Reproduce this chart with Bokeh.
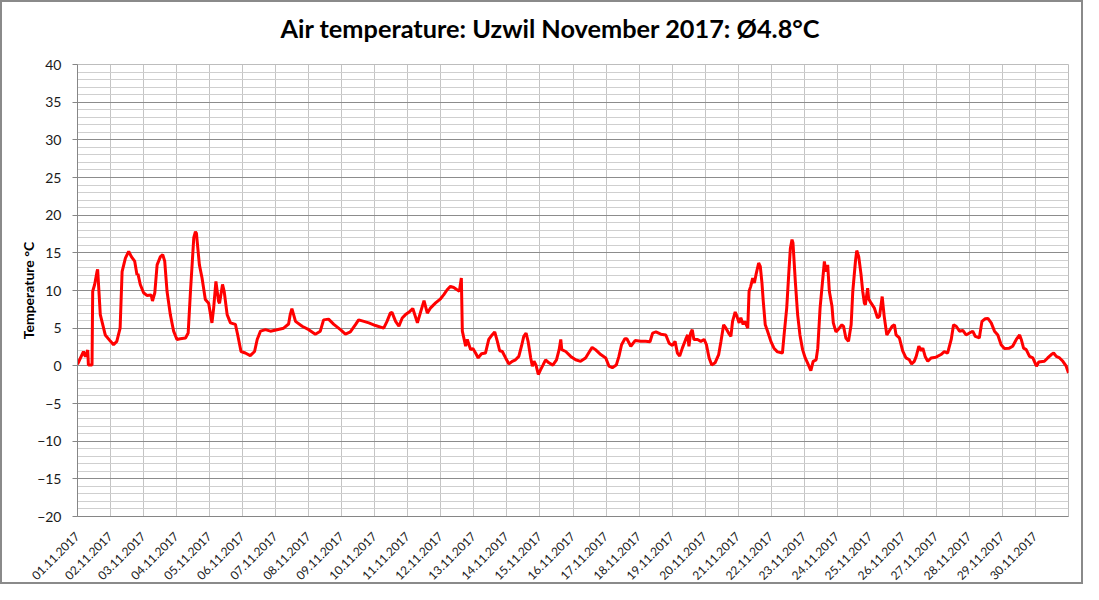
import math
from bokeh.plotting import figure
from bokeh.models import FixedTicker, Range1d, Title
from bokeh.embed import file_html
from bokeh.resources import INLINE

# time in days since 01.11.2017 00:00 and air temperature in °C
day_offset = [
    0.0, 0.18, 0.24, 0.31, 0.33, 0.44, 0.46, 0.52, 0.59, 0.61, 0.69, 0.84,
    1.0, 1.09, 1.19, 1.29, 1.35, 1.45, 1.55, 1.63, 1.73, 1.8, 1.83, 1.9,
    2.0, 2.1, 2.23, 2.27, 2.34, 2.41, 2.51, 2.58, 2.64, 2.71, 2.81, 2.91,
    3.01, 3.11, 3.27, 3.35, 3.42, 3.52, 3.57, 3.6, 3.69, 3.77, 3.87, 3.97,
    4.07, 4.12, 4.19, 4.27, 4.3, 4.39, 4.44, 4.53, 4.63, 4.78, 4.85, 4.95,
    5.08, 5.23, 5.36, 5.44, 5.54, 5.69, 5.84, 6.04, 6.24, 6.39, 6.44, 6.49,
    6.6, 6.8, 7.0, 7.2, 7.35, 7.45, 7.6, 7.76, 7.96, 8.11, 8.26, 8.42,
    8.51, 8.67, 8.82, 9.02, 9.27, 9.37, 9.47, 9.52, 9.63, 9.73, 9.83, 9.93,
    10.03, 10.15, 10.29, 10.39, 10.49, 10.59, 10.69, 10.84, 10.99, 11.09, 11.19, 11.29,
    11.39, 11.49, 11.56, 11.62, 11.65, 11.75, 11.8, 11.9, 11.97, 12.05, 12.13, 12.23,
    12.35, 12.45, 12.55, 12.63, 12.71, 12.78, 12.86, 12.96, 13.06, 13.16, 13.26, 13.36,
    13.44, 13.51, 13.58, 13.64, 13.72, 13.77, 13.82, 13.88, 13.95, 14.02, 14.09, 14.17,
    14.27, 14.39, 14.5, 14.58, 14.63, 14.66, 14.78, 14.93, 15.08, 15.23, 15.38, 15.5,
    15.58, 15.68, 15.84, 15.99, 16.09, 16.19, 16.31, 16.39, 16.47, 16.57, 16.63, 16.75,
    16.88, 17.05, 17.2, 17.33, 17.41, 17.51, 17.66, 17.81, 17.91, 18.01, 18.09, 18.16,
    18.23, 18.31, 18.41, 18.47, 18.51, 18.56, 18.61, 18.66, 18.77, 18.87, 18.97, 19.04,
    19.12, 19.2, 19.3, 19.41, 19.48, 19.56, 19.63, 19.71, 19.78, 19.83, 19.91, 19.96,
    20.03, 20.08, 20.15, 20.2, 20.29, 20.33, 20.38, 20.44, 20.49, 20.54, 20.62, 20.67,
    20.72, 20.76, 20.82, 20.89, 20.99, 21.09, 21.19, 21.34, 21.39, 21.47, 21.53, 21.58,
    21.63, 21.66, 21.73, 21.8, 21.87, 21.95, 22.03, 22.1, 22.2, 22.27, 22.36, 22.41,
    22.48, 22.54, 22.61, 22.65, 22.71, 22.76, 22.84, 22.88, 22.96, 23.06, 23.14, 23.19,
    23.26, 23.34, 23.42, 23.47, 23.55, 23.59, 23.65, 23.72, 23.77, 23.82, 23.85, 23.92,
    23.95, 24.02, 24.12, 24.22, 24.28, 24.36, 24.42, 24.5, 24.57, 24.66, 24.73, 24.78,
    24.88, 24.98, 25.08, 25.18, 25.25, 25.33, 25.39, 25.47, 25.54, 25.59, 25.66, 25.74,
    25.84, 25.99, 26.14, 26.24, 26.34, 26.45, 26.52, 26.6, 26.7, 26.8, 26.9, 27.0,
    27.1, 27.18, 27.3, 27.38, 27.48, 27.56, 27.66, 27.76, 27.86, 27.96, 28.06, 28.21,
    28.31, 28.42, 28.52, 28.57, 28.64, 28.72, 28.82, 28.92, 29.03, 29.1, 29.27, 29.37,
    29.48, 29.55, 29.63, 29.73, 29.83, 29.93, 30.0,
]
temp_c = [
    0.2, 1.9, 1.2, 2.1, 0.1, 0.1, 9.9, 10.8, 12.5, 12.8, 6.8, 4.1,
    3.25, 2.8, 3.25, 5.0, 12.5, 14.3, 15.2, 14.5, 13.9, 12.1, 12.2, 10.8,
    9.7, 9.35, 9.4, 8.6, 9.7, 13.4, 14.5, 14.75, 13.9, 9.9, 6.8, 4.6,
    3.5, 3.6, 3.7, 4.35, 9.9, 17.0, 17.8, 17.6, 13.4, 11.65, 8.8, 8.3,
    5.7, 7.6, 11.2, 8.55, 8.3, 10.8, 9.9, 6.8, 5.7, 5.5, 4.1, 1.9,
    1.7, 1.35, 1.9, 3.5, 4.6, 4.8, 4.6, 4.8, 5.0, 5.55, 6.8, 7.6,
    5.9, 5.25, 4.8, 4.2, 4.6, 6.1, 6.2, 5.5, 4.8, 4.2, 4.5, 5.5,
    6.1, 5.9, 5.7, 5.35, 5.0, 5.9, 7.0, 7.1, 5.9, 5.25, 6.35, 6.8,
    7.1, 7.6, 5.7, 7.2, 8.65, 7.0, 7.7, 8.35, 8.9, 9.45, 10.1, 10.55,
    10.4, 10.1, 9.9, 11.65, 4.6, 2.6, 3.5, 2.15, 2.3, 1.7, 1.05, 1.6,
    1.7, 3.5, 4.1, 4.5, 3.25, 2.0, 1.9, 1.05, 0.25, 0.6, 0.8, 1.25,
    2.6, 3.9, 4.35, 3.25, 1.05, -0.05, 0.6, 0.1, -1.15, -0.5, 0.1, 0.8,
    0.4, 0.1, 0.8, 2.15, 3.5, 2.15, 1.9, 1.25, 0.8, 0.6, 1.05, 1.9,
    2.45, 2.15, 1.5, 1.05, -0.05, -0.25, 0.1, 1.25, 2.8, 3.6, 3.6, 2.6,
    3.35, 3.25, 3.25, 3.2, 4.35, 4.5, 4.2, 4.1, 3.0, 2.7, 3.25, 1.7,
    1.3, 2.35, 3.5, 4.1, 2.6, 4.35, 4.8, 3.5, 3.5, 3.25, 3.5, 2.8,
    1.05, 0.1, 0.4, 1.5, 3.25, 5.45, 5.0, 4.35, 3.9, 5.9, 7.15, 6.6,
    5.7, 6.4, 5.5, 5.9, 5.0, 9.9, 10.55, 11.65, 11.0, 12.1, 13.65, 13.2,
    11.0, 8.55, 5.45, 4.6, 3.25, 2.3, 1.85, 1.7, 4.1, 7.7, 12.1, 15.6,
    16.75, 16.3, 11.2, 6.8, 4.1, 2.15, 1.05, 0.4, -0.65, 0.6, 0.8, 2.35,
    7.7, 10.55, 13.85, 12.5, 13.4, 9.9, 7.9, 5.7, 4.5, 5.0, 5.45, 5.25,
    3.7, 3.25, 5.45, 9.9, 13.85, 15.3, 14.5, 12.1, 9.9, 8.35, 8.1, 10.3,
    8.9, 8.35, 7.7, 6.35, 6.6, 9.2, 6.6, 4.1, 4.6, 5.25, 5.45, 4.1,
    3.7, 2.0, 1.05, 0.8, 0.25, 0.6, 1.25, 2.6, 2.0, 2.35, 1.25, 0.6,
    1.05, 1.15, 1.5, 1.9, 1.7, 3.5, 5.45, 5.25, 4.6, 4.7, 4.1, 4.35,
    4.6, 3.9, 3.7, 5.9, 6.25, 6.3, 5.7, 4.6, 4.1, 2.8, 2.3, 2.35,
    2.6, 3.5, 4.1, 3.5, 2.35, 2.15, 1.25, 1.05, -0.05, 0.5, 0.6, 1.05,
    1.5, 1.7, 1.25, 1.05, 0.6, -0.05, -0.95,
]

date_labels = ["%02d.11.2017" % d for d in range(1, 31)]
y_major = list(range(-20, 41, 5))
y_minor = list(range(-20, 41, 1))

FONT = "Lato"

p = figure(
    width=1083, height=584,
    x_range=Range1d(0, 30), y_range=Range1d(-20, 40),
    output_backend="svg", toolbar_location=None,
    min_border_left=75, min_border_right=17,
    min_border_top=62, min_border_bottom=69,
    background_fill_color="white", border_fill_color="white",
)
p.styles = {"border": "2px solid #8a8a8a"}

# spacer between title and plot area
p.add_layout(Title(text=" ", text_font_size="10px", standoff=2), "above")

p.title.text = "Air temperature: Uzwil November 2017: \u00d84.8\u00b0C"
p.title.text_font = FONT
p.title.text_font_size = "25.3px"
p.title.text_font_style = "bold"
p.title.text_color = "#000000"
p.title.align = "left"
p.title.offset = 203
p.title.standoff = 14

p.outline_line_color = "#bdbdbd"

# x axis
p.xaxis.ticker = FixedTicker(ticks=list(range(0, 30)), minor_ticks=[])
p.xaxis.major_label_overrides = {i: date_labels[i] for i in range(30)}
p.xaxis.major_label_orientation = math.pi / 4
p.xaxis.major_label_text_font = FONT
p.xaxis.major_label_text_font_size = "12px"
p.xaxis.major_label_text_color = "#1a1a1a"
p.xaxis.axis_line_color = "#868686"
p.xaxis.major_tick_line_color = None
p.xaxis.major_tick_out = 0
p.xaxis.major_tick_in = 0
p.xaxis.major_label_standoff = 18

p.xgrid.ticker = FixedTicker(ticks=list(range(0, 31)))
p.xgrid.grid_line_color = "#c4c4c4"
p.xgrid.grid_line_width = 1

# y axis
p.yaxis.ticker = FixedTicker(ticks=y_major, minor_ticks=y_minor)
p.yaxis.axis_label = "Temperature \u00b0C"
p.yaxis.axis_label_text_font = FONT
p.yaxis.axis_label_text_font_size = "14px"
p.yaxis.axis_label_text_font_style = "bold"
p.yaxis.axis_label_text_color = "#000000"
p.yaxis.axis_label_standoff = -3
p.yaxis.major_label_text_font = FONT
p.yaxis.major_label_text_font_size = "14px"
p.yaxis.major_label_text_color = "#1a1a1a"
p.yaxis.axis_line_color = "#868686"
p.yaxis.major_tick_line_color = "#868686"
p.yaxis.major_tick_out = 5
p.yaxis.major_tick_in = 0
p.yaxis.minor_tick_line_color = None
p.yaxis.major_label_standoff = 11

p.ygrid.grid_line_color = "#8c8c8c"
p.ygrid.grid_line_width = 1
p.ygrid.minor_grid_line_color = "#cfcfcf"
p.ygrid.minor_grid_line_width = 1

p.line(day_offset, temp_c, line_color="#ff0000", line_width=3)

open("out.html", "w").write(file_html(p, INLINE))
